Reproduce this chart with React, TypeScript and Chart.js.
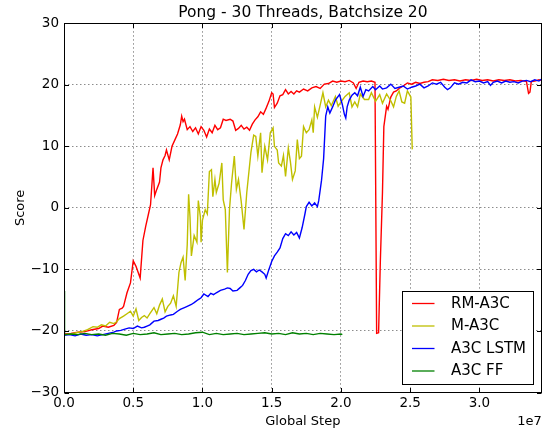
import React, { useEffect, useRef } from 'react';
import { Chart, registerables } from 'chart.js';

Chart.register(...registerables);

const FONT = "'DejaVu Sans', 'Liberation Sans', sans-serif";

const TITLE = 'Pong - 30 Threads, Batchsize 20';
const X_LABEL = 'Global Step';
const Y_LABEL = 'Score';
const X_OFFSET_LABEL = '1e7';

const xTicks = [0, 0.5, 1, 1.5, 2, 2.5, 3];
const yTicks = [-30, -20, -10, 0, 10, 20, 30];
const X_MAX = 3.45;

const seriesNames = ['RM-A3C', 'M-A3C', 'A3C LSTM', 'A3C FF'];
const seriesColors = ['#ff0000', '#bfbf00', '#0000ff', '#008000'];

// Global step in units of 1e7
const rmSteps = [
  0, 0.05, 0.1, 0.15, 0.2, 0.25, 0.28, 0.32, 0.36, 0.38, 0.4, 0.42, 0.43, 0.455, 0.48, 0.5, 0.52, 0.55, 0.57, 0.59,
  0.61, 0.625, 0.643, 0.655, 0.67, 0.69, 0.7, 0.715, 0.73, 0.74, 0.76, 0.78, 0.8, 0.82, 0.84, 0.85, 0.86, 0.87, 0.89, 0.91,
  0.93, 0.95, 0.97, 0.99, 1.01, 1.03, 1.05, 1.07, 1.09, 1.11, 1.13, 1.15, 1.17, 1.2, 1.22, 1.24, 1.26, 1.28, 1.3, 1.32,
  1.34, 1.36, 1.38, 1.4, 1.42, 1.44, 1.46, 1.48, 1.5, 1.51, 1.52, 1.54, 1.56, 1.58, 1.6, 1.62, 1.64, 1.66, 1.68, 1.7,
  1.73, 1.76, 1.79, 1.82, 1.85, 1.88, 1.91, 1.94, 1.97, 2.0, 2.03, 2.06, 2.09, 2.11, 2.13, 2.16, 2.19, 2.22, 2.246, 2.258,
  2.272, 2.285, 2.3, 2.31, 2.33, 2.34, 2.36, 2.38, 2.4, 2.42, 2.45, 2.48, 2.51, 2.54, 2.57, 2.6, 2.63, 2.66, 2.7, 2.74,
  2.78, 2.82, 2.86, 2.9, 2.94, 2.98, 3.02, 3.06, 3.1, 3.14, 3.18, 3.22, 3.26, 3.3, 3.34, 3.355, 3.365, 3.375, 3.4, 3.43,
  3.445,
];
const rmScores = [
  -20.5, -20.4, -20.2, -20.1, -19.8, -19.6, -19.2, -19.4, -19.1, -18.6, -16.5, -16.3, -16.0, -13.8, -12.2, -8.6, -9.5, -11.4, -5.3, -3.0,
  -1.0, 0.5, 6.5, 2.0, 3.0, 4.2, 6.5, 7.8, 8.5, 9.4, 7.8, 10.0, 11.0, 12.0, 13.5, 14.9, 14.0, 14.4, 12.7, 13.2,
  12.4, 13.0, 12.0, 13.2, 12.6, 11.5, 12.8, 12.2, 13.4, 12.7, 13.0, 14.4, 14.2, 14.4, 14.1, 12.6, 12.9, 13.4, 12.8, 13.1,
  12.6, 13.6, 14.3, 14.8, 15.6, 15.2, 16.2, 17.3, 18.7, 18.5, 16.3, 17.0, 18.2, 18.4, 19.2, 18.5, 18.9, 18.5, 19.0, 18.8,
  19.3, 19.0, 19.5, 19.7, 19.4, 20.1, 20.2, 20.6, 20.4, 20.6, 20.5, 20.7, 20.3, 19.4, 20.4, 20.6, 20.5, 20.6, 20.4, -20.4,
  -20.3, -8.4, 2.5, 13.2, 16.5, 16.0, 18.0, 18.8, 19.0, 19.4, 19.8, 20.3, 20.1, 20.4, 20.2, 20.4, 20.5, 20.8, 20.7, 20.9,
  20.7, 20.8, 20.6, 20.8, 20.7, 20.9, 20.7, 20.8, 20.6, 20.8, 20.7, 20.8, 20.6, 20.7, 20.5, 18.6, 18.8, 20.5, 20.6, 20.8,
  20.7,
];

const mSteps = [
  0, 0.05, 0.09, 0.13, 0.17, 0.21, 0.24, 0.27, 0.3, 0.33, 0.36, 0.38, 0.4, 0.43, 0.455, 0.48, 0.5, 0.52, 0.54, 0.56,
  0.58, 0.6, 0.62, 0.65, 0.67, 0.69, 0.71, 0.73, 0.75, 0.77, 0.79, 0.81, 0.83, 0.845, 0.86, 0.875, 0.89, 0.9, 0.91, 0.92,
  0.94, 0.96, 0.97, 0.985, 0.99, 1.0, 1.02, 1.035, 1.05, 1.065, 1.075, 1.09, 1.1, 1.12, 1.14, 1.15, 1.165, 1.18, 1.195, 1.21,
  1.23, 1.245, 1.26, 1.28, 1.3, 1.32, 1.35, 1.37, 1.385, 1.4, 1.42, 1.43, 1.45, 1.47, 1.49, 1.51, 1.52, 1.54, 1.55, 1.57,
  1.585, 1.6, 1.62, 1.635, 1.65, 1.67, 1.685, 1.7, 1.715, 1.73, 1.75, 1.77, 1.79, 1.8, 1.81, 1.83, 1.85, 1.87, 1.89, 1.91,
  1.93, 1.96, 1.98, 2.0, 2.03, 2.06, 2.08, 2.1, 2.12, 2.14, 2.17, 2.2, 2.22, 2.25, 2.28, 2.3, 2.33, 2.36, 2.38, 2.4,
  2.42, 2.44, 2.46, 2.48, 2.505, 2.515,
];
const mScores = [
  -20.6, -20.5, -20.3, -20.1, -19.8, -19.3, -19.4, -19.0, -19.2, -18.6, -18.8, -18.5, -18.0, -17.6, -17.2, -16.8, -17.6, -16.4, -18.3, -17.8,
  -17.5, -17.9, -17.2, -16.2, -17.2, -15.8, -14.8, -16.9, -16.0, -15.5, -14.3, -16.0, -10.5, -8.9, -8.0, -11.8, -6.0, 2.2, -1.5, -7.8,
  -4.5, -5.6, 1.2, -1.5, -5.6, -2.0, -0.3, -1.0, 5.9, 6.2, 1.8, 4.6, 2.5, 4.0, 7.3, 1.3, -0.3, -10.5, -0.3, 4.0,
  8.4, 3.0, 4.6, 1.0, -3.5, 2.5, 9.0, 11.8, 11.6, 8.4, 12.2, 5.7, 10.0, 7.8, 12.2, 13.0, 10.0, 9.4, 7.3, 6.8,
  8.5, 5.1, 9.7, 7.5, 4.6, 6.0, 11.1, 8.0, 8.4, 13.2, 12.2, 12.7, 14.3, 12.2, 16.4, 14.7, 16.7, 18.7, 16.4, 17.5,
  16.6, 18.1, 16.5, 17.2, 18.1, 18.7, 16.4, 17.2, 16.4, 18.5, 17.6, 17.6, 18.7, 17.3, 18.4, 17.0, 18.5, 17.4, 16.4, 18.1,
  19.0, 17.2, 17.0, 19.0, 18.0, 9.5,
];

const lstmSteps = [
  0, 0.04, 0.08, 0.12, 0.16, 0.2, 0.24, 0.28, 0.32, 0.36, 0.38, 0.41, 0.44, 0.47, 0.5, 0.53, 0.56, 0.58, 0.6, 0.62,
  0.65, 0.68, 0.7, 0.72, 0.74, 0.77, 0.79, 0.82, 0.84, 0.87, 0.89, 0.92, 0.94, 0.97, 0.99, 1.01, 1.04, 1.06, 1.08, 1.1,
  1.13, 1.16, 1.18, 1.2, 1.22, 1.25, 1.27, 1.29, 1.31, 1.33, 1.35, 1.37, 1.39, 1.41, 1.43, 1.45, 1.46, 1.48, 1.5, 1.52,
  1.54, 1.56, 1.58, 1.6, 1.62, 1.64, 1.66, 1.68, 1.7, 1.72, 1.74, 1.75, 1.77, 1.79, 1.81, 1.83, 1.84, 1.86, 1.875, 1.89,
  1.905, 1.92, 1.94, 1.96, 1.99, 2.01, 2.025, 2.035, 2.045, 2.06, 2.08, 2.1, 2.12, 2.14, 2.16, 2.18, 2.2, 2.23, 2.25, 2.28,
  2.3, 2.33, 2.36, 2.39, 2.42, 2.45, 2.48, 2.51, 2.54, 2.57, 2.6, 2.63, 2.66, 2.69, 2.72, 2.75, 2.77, 2.79, 2.82, 2.85,
  2.88, 2.91, 2.94, 2.97, 3.0, 3.03, 3.06, 3.08, 3.1, 3.13, 3.16, 3.19, 3.22, 3.25, 3.28, 3.31, 3.34, 3.37, 3.4, 3.43,
  3.445,
];
const lstmScores = [
  -20.7, -20.6, -20.8, -20.5, -20.7, -20.6, -20.8, -20.6, -20.4, -20.2, -20.0, -19.9, -19.7, -19.5, -19.6, -19.2, -19.5, -19.4, -19.2, -19.0,
  -18.4, -18.3, -18.1, -17.9, -17.6, -17.4, -17.3, -16.8, -16.5, -16.2, -16.0, -15.7, -15.4, -14.9, -14.6, -14.0, -14.4, -13.9, -14.1, -13.8,
  -13.4, -13.2, -13.0, -13.1, -13.5, -13.4, -13.0, -12.6, -11.8, -10.8, -10.2, -10.0, -10.4, -10.1, -10.4, -10.8, -11.4, -10.0, -8.7, -7.8,
  -7.2, -6.5, -5.0, -4.2, -4.5, -3.9, -4.4, -4.0, -4.9, -3.2, -1.0, 0.2, 0.9, 0.3, 0.8, 0.2, 1.2, 4.5, 8.0, 14.9,
  16.4, 15.4, 16.4, 17.5, 18.4, 16.8, 15.2, 14.6, 16.4, 17.5, 18.3, 18.7, 18.2, 19.6, 18.1, 19.2, 19.0, 19.7, 19.2, 19.8,
  19.3, 19.5, 20.1, 19.4, 19.6, 19.8, 19.3, 19.6, 19.8, 20.1, 19.5, 19.8, 20.3, 20.1, 20.4, 19.6, 19.2, 19.5, 20.3, 20.1,
  20.4, 20.3, 20.8, 20.5, 20.6, 20.3, 20.5, 19.9, 20.4, 20.6, 20.3, 20.6, 20.4, 20.5, 20.3, 20.6, 20.7, 20.5, 20.8, 20.6,
  20.9,
];

const ffSteps = [
  0, 0.004, 0.05, 0.1, 0.15, 0.2, 0.25, 0.3, 0.35, 0.4, 0.45, 0.5, 0.55, 0.6, 0.65, 0.7, 0.75, 0.8, 0.85, 0.9,
  0.95, 1.0, 1.05, 1.1, 1.15, 1.2, 1.25, 1.3, 1.35, 1.4, 1.45, 1.5, 1.55, 1.6, 1.65, 1.7, 1.75, 1.8, 1.85, 1.9,
  1.95, 2.0, 2.01,
];
const ffScores = [
  -13.5, -20.6, -20.5, -20.6, -20.4, -20.6, -20.5, -20.7, -20.4, -20.5, -20.7, -20.4, -20.6, -20.5, -20.3, -20.6, -20.5, -20.4, -20.6, -20.5,
  -20.3, -20.2, -20.6, -20.4, -20.6, -20.5, -20.4, -20.6, -20.5, -20.4, -20.3, -20.5, -20.4, -20.6, -20.3, -20.5, -20.4, -20.6, -20.4, -20.5,
  -20.6, -20.5, -20.6,
];

const seriesSteps = [rmSteps, mSteps, lstmSteps, ffSteps];
const seriesScores = [rmScores, mScores, lstmScores, ffScores];

const fmtY = (v: number) => (v < 0 ? '\u2212' + Math.abs(v) : String(v));

const decorPlugin = {
  id: 'decor',
  afterDatasetsDraw(chart: any) {
    const { ctx, chartArea: a, scales } = chart;
    const xs = scales.x;
    const ys = scales.y;
    const L = Math.round(a.left) + 0.5;
    const R = Math.round(a.right) - 0.5;
    const T = Math.round(a.top) + 0.5;
    const B = Math.round(a.bottom) - 0.5;
    ctx.save();
    ctx.strokeStyle = '#000';
    ctx.lineWidth = 1;
    ctx.setLineDash([]);
    ctx.strokeRect(L, T, R - L, B - T);
    const tl = 4.5;
    ctx.beginPath();
    xTicks.forEach((v) => {
      const p = Math.round(xs.getPixelForValue(v)) + 0.5;
      ctx.moveTo(p, B);
      ctx.lineTo(p, B - tl);
      ctx.moveTo(p, T);
      ctx.lineTo(p, T + tl);
    });
    yTicks.forEach((v) => {
      const p = Math.round(ys.getPixelForValue(v)) + 0.5;
      ctx.moveTo(L, p);
      ctx.lineTo(L + tl, p);
      ctx.moveTo(R, p);
      ctx.lineTo(R - tl, p);
    });
    ctx.stroke();

    // legend
    const bx = 402.5, by = 291.5, bw = 131, bh = 93;
    ctx.fillStyle = '#fff';
    ctx.fillRect(bx, by, bw, bh);
    ctx.strokeStyle = '#000';
    ctx.strokeRect(bx, by, bw, bh);
    ctx.font = `15px ${FONT}`;
    ctx.textBaseline = 'middle';
    ctx.textAlign = 'left';
    chart.data.datasets.forEach((ds: any, i: number) => {
      const y = 303.5 + i * 22.5;
      ctx.strokeStyle = ds.borderColor;
      ctx.lineWidth = 1.3;
      ctx.beginPath();
      ctx.moveTo(412, y);
      ctx.lineTo(434.5, y);
      ctx.stroke();
      ctx.fillStyle = '#000';
      ctx.fillText(ds.label, 451, y + 0.5);
    });
    ctx.restore();
  },
  afterDraw(chart: any) {
    const { ctx, chartArea: a } = chart;
    ctx.save();
    ctx.fillStyle = '#000';
    ctx.textBaseline = 'middle';
    ctx.font = `13px ${FONT}`;
    ctx.textAlign = 'right';
    ctx.fillText(X_OFFSET_LABEL, a.right, 421.5);
    ctx.font = `15.5px ${FONT}`;
    ctx.textAlign = 'center';
    ctx.fillText(TITLE, (a.left + a.right) / 2, 12.5);
    ctx.restore();
  },
};

export default function App() {
  const ref = useRef<HTMLCanvasElement | null>(null);

  useEffect(() => {
    if (!ref.current) return;
    Chart.defaults.font.family = FONT;
    Chart.defaults.color = '#000';
    const datasets = seriesNames.map((name, i) => ({
      label: name,
      data: seriesSteps[i].map((s, j) => ({ x: s, y: seriesScores[i][j] })),
      borderColor: seriesColors[i],
      backgroundColor: seriesColors[i],
      borderWidth: 1.4,
      pointRadius: 0,
      pointHoverRadius: 0,
      tension: 0,
      fill: false,
      order: seriesNames.length - 1 - i,
    }));
    const chart = new Chart(ref.current, {
      type: 'line',
      data: { datasets },
      plugins: [decorPlugin],
      options: {
        animation: false,
        responsive: false,
        devicePixelRatio: 1,
        events: [],
        layout: { padding: { left: 0, right: 10.3, top: 23.2, bottom: 0 } },
        plugins: {
          legend: { display: false },
          tooltip: { enabled: false },
          title: { display: false, text: TITLE },
        },
        scales: {
          x: {
            type: 'linear',
            min: 0,
            max: X_MAX,
            afterBuildTicks: (s: any) => {
              s.ticks = xTicks.map((v) => ({ value: v }));
            },
            afterFit: (s: any) => {
              s.height = 39.5;
            },
            ticks: {
              autoSkip: false,
              maxRotation: 0,
              padding: 3,
              font: { size: 13.5, family: FONT },
              color: '#000',
              callback: (v: any) => Number(v).toFixed(1),
            },
            grid: { display: true, drawTicks: false, color: 'rgba(0,0,0,0.45)', lineWidth: 1 },
            border: { display: false, dash: [1.5, 2.5] },
            title: {
              display: true,
              text: X_LABEL,
              color: '#000',
              font: { size: 13, family: FONT, lineHeight: 1.2 },
              padding: { top: 0, bottom: 2.2 },
            },
          },
          y: {
            type: 'linear',
            min: -30,
            max: 30,
            afterBuildTicks: (s: any) => {
              s.ticks = yTicks.map((v) => ({ value: v }));
            },
            afterFit: (s: any) => {
              s.width = 64;
            },
            ticks: {
              autoSkip: false,
              padding: 5,
              font: { size: 13.5, family: FONT },
              color: '#000',
              callback: (v: any) => fmtY(Number(v)),
            },
            grid: { display: true, drawTicks: false, color: 'rgba(0,0,0,0.45)', lineWidth: 1 },
            border: { display: false, dash: [1.5, 2.5] },
            title: {
              display: true,
              text: Y_LABEL,
              color: '#000',
              font: { size: 13, family: FONT, lineHeight: 1.2 },
              padding: { top: 13.2, bottom: 0 },
            },
          },
        },
      } as any,
    });
    return () => chart.destroy();
  }, []);

  return (
    <div style={{ position: 'fixed', left: 0, top: 0, width: 552, height: 432, background: '#fff' }}>
      <canvas ref={ref} width={552} height={432} style={{ width: 552, height: 432, display: 'block' }} />
    </div>
  );
}
